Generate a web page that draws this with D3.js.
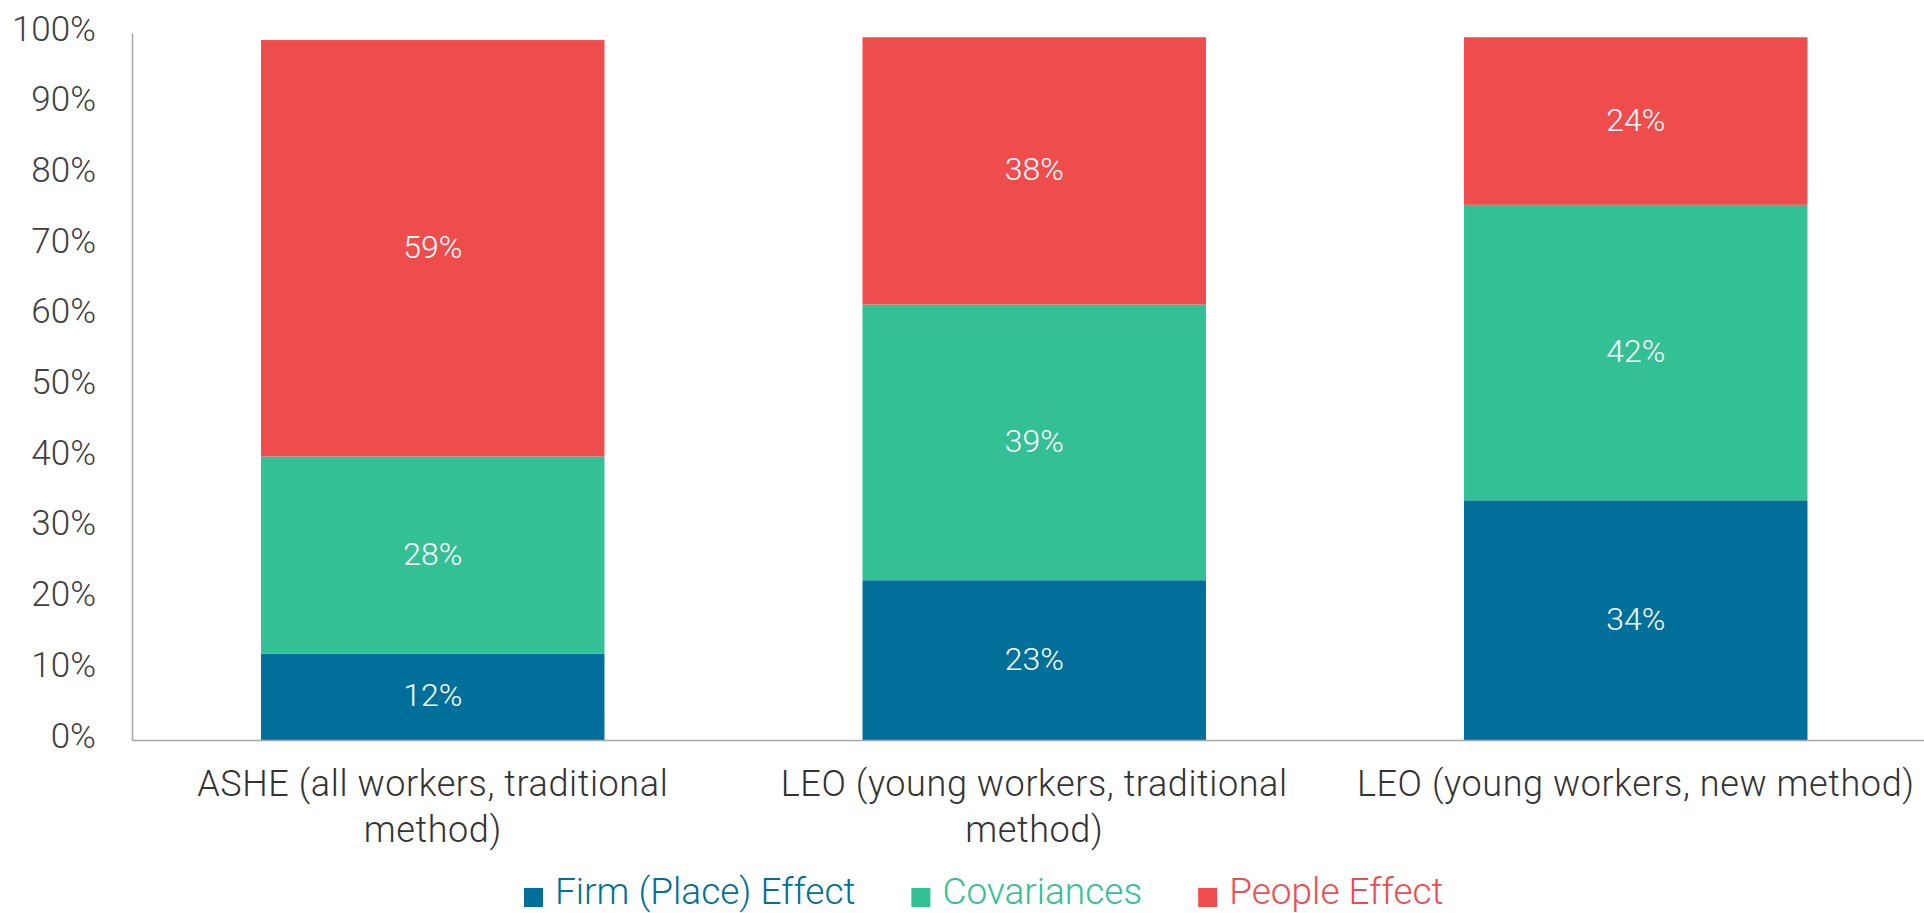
<!DOCTYPE html>
<html>
<head>
<meta charset="utf-8">
<script src="https://cdn.jsdelivr.net/npm/d3@7"></script>
<style>
  html, body { margin: 0; padding: 0; background: #fff; }
  svg { display: block; }
</style>
</head>
<body>
<svg id="chart" width="1924" height="913"></svg>
<script>
// ---- data ----
const categories = [
  "ASHE (all workers, traditional method)",
  "LEO (young workers, traditional method)",
  "LEO (young workers, new method)"
];
const seriesNames = ["Firm (Place) Effect", "Covariances", "People Effect"];
const firmEffect   = [12.2, 22.6, 33.9];
const covariances  = [27.9, 39.0, 41.8];
const peopleEffect = [58.9, 37.8, 23.7];
const yTicks = [0, 10, 20, 30, 40, 50, 60, 70, 80, 90, 100];
const colors = ["#00709b", "#33c094", "#ef4c4d"];

// ---- layout ----
const svg = d3.select("#chart");
const plot = { left: 132, right: 1936.5, top: 33, bottom: 740 };

const rows = categories.map((c, i) => ({
  cat: c,
  [seriesNames[0]]: firmEffect[i],
  [seriesNames[1]]: covariances[i],
  [seriesNames[2]]: peopleEffect[i]
}));
const stacked = d3.stack().keys(seriesNames)(rows);

const x = d3.scaleBand().domain(categories).range([plot.left, plot.right])
  .paddingInner(0.429).paddingOuter(0.2145);
const y = d3.scaleLinear().domain([0, 100]).range([plot.bottom, plot.top]);
const color = d3.scaleOrdinal().domain(seriesNames).range(colors);

// bars
const layers = svg.append("g").selectAll("g").data(stacked).join("g")
  .attr("fill", d => color(d.key));
layers.selectAll("rect").data(d => d).join("rect")
  .attr("x", d => x(d.data.cat))
  .attr("width", x.bandwidth())
  .attr("y", d => y(d[1]))
  .attr("height", d => y(d[0]) - y(d[1]));

// value labels
layers.selectAll("text").data(d => d).join("text")
  .attr("x", d => x(d.data.cat) + x.bandwidth() / 2)
  .attr("y", d => (y(d[0]) + y(d[1])) / 2)
  .attr("dy", "0.3em")
  .attr("text-anchor", "middle")
  .attr("fill", "#ffffff")
  .style("font-family", "Roboto")
  .style("font-weight", 300)
  .style("font-size", "32px")
  .text(d => Math.round(d[1] - d[0]) + "%");

// y axis
const yAxis = d3.axisLeft(y).tickValues(yTicks).tickSize(0).tickPadding(36)
  .tickFormat(d => d + "%");
const gy = svg.append("g").attr("transform", `translate(${plot.left},0)`).call(yAxis);
gy.select(".domain").attr("stroke", "#a6a6a6").attr("stroke-width", 1.5);
gy.selectAll("text")
  .attr("dy", "0.2em")
  .attr("fill", "#404040")
  .style("font-family", "Roboto")
  .style("font-weight", 300)
  .style("font-size", "35px");

// x axis
const xAxis = d3.axisBottom(x).tickSize(0).tickFormat("");
const gx = svg.append("g").attr("transform", `translate(0,${plot.bottom})`).call(xAxis);
gx.select(".domain").attr("stroke", "#a6a6a6").attr("stroke-width", 1.5);

// category labels (wrapped)
const catFont = { family: "Roboto", weight: 300, size: 36, spacing: 0.6 };
const maxLineWidth = 585;
const catG = svg.append("g");
categories.forEach(cat => {
  const cx = x(cat) + x.bandwidth() / 2;
  const t = catG.append("text")
    .attr("text-anchor", "middle")
    .attr("fill", "#333333")
    .style("font-family", catFont.family)
    .style("font-weight", catFont.weight)
    .style("font-size", catFont.size + "px")
    .style("letter-spacing", catFont.spacing + "px");
  const words = cat.split(" ");
  let lines = [], line = [];
  const probe = t.append("tspan");
  words.forEach(w => {
    const trial = line.concat(w).join(" ");
    probe.text(trial);
    if (probe.node().getComputedTextLength() > maxLineWidth && line.length) {
      lines.push(line.join(" "));
      line = [w];
    } else line.push(w);
  });
  lines.push(line.join(" "));
  probe.remove();
  lines.forEach((ln, i) => {
    t.append("tspan").attr("x", cx).attr("y", 796 + i * 46).text(ln);
  });
});

// legend
const legend = svg.append("g");
let lx = 524;
seriesNames.forEach((name, i) => {
  legend.append("rect")
    .attr("x", lx).attr("y", 888).attr("width", 19).attr("height", 19)
    .attr("fill", colors[i]);
  const t = legend.append("text")
    .attr("x", lx + 31).attr("y", 904)
    .attr("fill", colors[i])
    .style("font-family", "Roboto")
    .style("font-weight", 300)
    .style("font-size", "37px")
    .text(name);
  lx += 31 + t.node().getComputedTextLength() + 56;
});
</script>
</body>
</html>
